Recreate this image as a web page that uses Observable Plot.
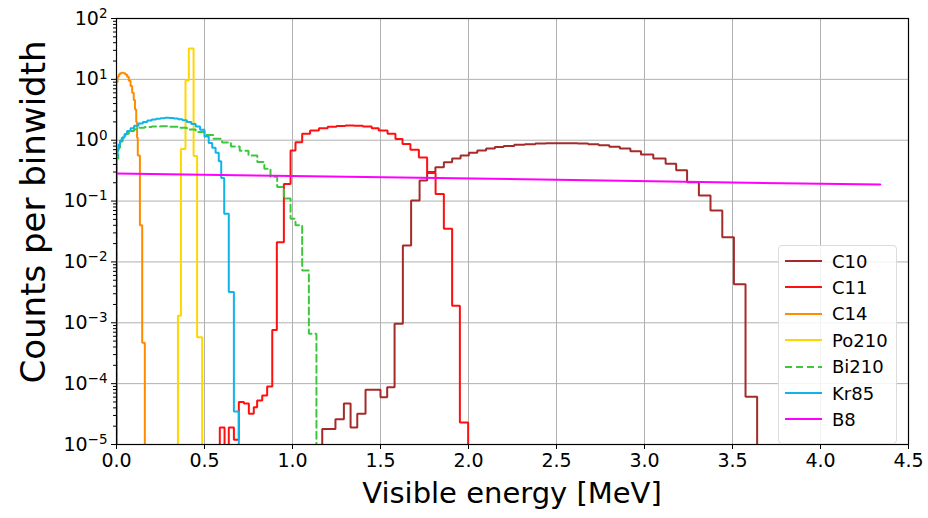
<!DOCTYPE html>
<html>
<head>
<meta charset="utf-8">
<script src="https://cdn.jsdelivr.net/npm/d3@7"></script>
<script src="https://cdn.jsdelivr.net/npm/@observablehq/plot@0.6"></script>
<style>
  html, body { margin: 0; padding: 0; background: #fff; }
  #wrap { position: relative; width: 928px; height: 518px; font-family: "DejaVu Sans", sans-serif; }
  #legend { position: absolute; left: 778px; top: 245px; width: 119px; height: 199px;
            border: 1px solid #dcdcdc; border-radius: 4px; background: rgba(255,255,255,0.85);
            box-sizing: border-box; }
  .row { position: absolute; left: 0; height: 26px; display: flex; align-items: center;
         font-size: 18px; color: #000; white-space: nowrap; }
  .row svg { margin-left: 6px; margin-right: 10px; }
</style>
</head>
<body>
<div id="wrap"></div>
<script>
// ---------- tick values ----------
const xTicks = [0, 0.5, 1.0, 1.5, 2.0, 2.5, 3.0, 3.5, 4.0, 4.5];
const yTicks = [1e-5, 1e-4, 1e-3, 1e-2, 1e-1, 1e0, 1e1, 1e2];

// ---------- series ----------
const seriesNames  = ["C10", "C11", "C14", "Po210", "Bi210", "Kr85", "B8"];
const seriesColors = ["#a52a2a", "#ff1010", "#ff8c00", "#ffd700", "#3cc83c", "#10b4e6", "#ff00ff"];
const seriesDashes = [null, null, null, null, "7,4", null, null];

// C10 histogram (bin edges in MeV, counts per binwidth)
const c10Edges = [1.169, 1.244, 1.292, 1.330, 1.368, 1.415, 1.500, 1.538, 1.580, 1.627, 1.674, 1.722,
  1.765, 1.812, 1.860, 1.907, 1.955, 2.002, 2.05, 2.10, 2.15, 2.20, 2.26, 2.32, 2.38, 2.44, 2.50,
  2.56, 2.62, 2.68, 2.74, 2.80, 2.86, 2.92, 2.98, 3.05, 3.12, 3.18, 3.242, 3.309, 3.375, 3.442,
  3.508, 3.574, 3.640];
const c10Counts = [1.8e-5, 2.6e-5, 4.7e-5, 1.9e-5, 3.2e-5, 7.9e-5, 6.0e-5, 8.7e-5, 9.6e-4, 0.0186,
  0.102, 0.218, 0.30, 0.36, 0.435, 0.50, 0.56, 0.62, 0.68, 0.73, 0.77, 0.80, 0.84, 0.86, 0.88, 0.89,
  0.89, 0.89, 0.88, 0.86, 0.83, 0.78, 0.73, 0.66, 0.58, 0.50, 0.41, 0.32, 0.204, 0.124, 0.070,
  0.0255, 4.3e-3, 6.1e-5];

// C11 histogram
const c11Edges = [0.587, 0.614, 0.638, 0.667, 0.695, 0.724, 0.752, 0.780, 0.799, 0.828, 0.856, 0.885,
  0.911, 0.951, 0.989, 1.017, 1.055, 1.10, 1.15, 1.20, 1.25, 1.30, 1.35, 1.40, 1.45, 1.49, 1.54,
  1.585, 1.625, 1.67, 1.718, 1.765, 1.813, 1.860, 1.907, 1.951, 1.998];
const c11Counts = [1.9e-5, 0, 1.9e-5, 1.2e-5, 5.0e-5, 4.7e-5, 3.2e-5, 4.1e-5, 5.3e-5, 6.4e-5, 9.0e-5,
  7.6e-4, 0.021, 0.19, 0.68, 0.93, 1.28, 1.45, 1.58, 1.67, 1.72, 1.75, 1.73, 1.68, 1.58, 1.45, 1.28,
  1.05, 0.87, 0.70, 0.52, 0.29, 0.131, 0.035, 1.9e-3, 2.3e-5];

// C14 histogram
const c14Edges = [0, 0.006, 0.013, 0.02, 0.03, 0.04, 0.05, 0.06, 0.07, 0.08, 0.089, 0.098, 0.105,
  0.112, 0.117, 0.121, 0.133, 0.146, 0.161];
const c14Counts = [9.0, 11.0, 12.0, 12.6, 12.8, 12.6, 12.0, 11.0, 9.5, 7.8, 6.0, 4.6, 3.2, 2.0, 1.1,
  0.56, 0.040, 4.7e-4];

// Po210 histogram
const po210Edges = [0.349, 0.366, 0.392, 0.411, 0.438, 0.458, 0.487];
const po210Counts = [1.3e-3, 0.72, 9.6, 32, 0.55, 5.8e-4];

// Bi210 histogram
const bi210Edges = [0, 0.01, 0.02, 0.035, 0.05, 0.07, 0.10, 0.13, 0.16, 0.20, 0.25, 0.30, 0.35, 0.40,
  0.45, 0.50, 0.55, 0.60, 0.65, 0.70, 0.75, 0.80, 0.84, 0.875, 0.913, 0.951, 0.989, 1.017, 1.055,
  1.093, 1.136];
const bi210Counts = [0.5, 0.75, 0.95, 1.12, 1.28, 1.42, 1.52, 1.60, 1.65, 1.68, 1.69, 1.66, 1.60, 1.50,
  1.37, 1.22, 1.06, 0.92, 0.79, 0.67, 0.56, 0.44, 0.34, 0.25, 0.17, 0.11, 0.051, 0.040, 7.2e-3, 6.6e-4];

// Kr85 histogram
const kr85Edges = [0, 0.006, 0.012, 0.02, 0.03, 0.045, 0.06, 0.08, 0.10, 0.125, 0.15, 0.175, 0.20,
  0.225, 0.25, 0.275, 0.30, 0.325, 0.35, 0.375, 0.40, 0.425, 0.45, 0.475, 0.50, 0.524, 0.544, 0.563,
  0.581, 0.595, 0.612, 0.638, 0.667, 0.695];
const kr85Counts = [0.53, 0.70, 0.85, 0.99, 1.10, 1.25, 1.42, 1.58, 1.73, 1.88, 2.00, 2.10, 2.18, 2.25,
  2.30, 2.33, 2.32, 2.28, 2.22, 2.12, 2.00, 1.85, 1.68, 1.48, 1.15, 0.90, 0.75, 0.62, 0.45, 0.24,
  0.062, 3.2e-3, 3.5e-5];

// B8 (smooth line)
const b8X = [0, 1.0, 2.5, 3.5, 4.34];
const b8Y = [0.284, 0.258, 0.224, 0.202, 0.187];

// ---------- build ----------
const FLOOR = 1e-9; // empty bins (below the visible range)
function stepOutline(edges, counts) {
  const pts = [{x: edges[0], y: FLOOR}];
  counts.forEach((c, i) => {
    const v = c > 0 ? c : FLOOR;
    pts.push({x: edges[i], y: v});
    pts.push({x: edges[i + 1], y: v});
  });
  pts.push({x: edges[edges.length - 1], y: FLOOR});
  return pts;
}

const hists = [
  [c10Edges, c10Counts], [c11Edges, c11Counts], [c14Edges, c14Counts],
  [po210Edges, po210Counts], [bi210Edges, bi210Counts], [kr85Edges, kr85Counts]
];

const lineMarks = hists.map(([e, c], i) =>
  Plot.line(stepOutline(e, c), {
    x: "x", y: "y", stroke: seriesColors[i], strokeWidth: 2,
    strokeDasharray: seriesDashes[i] || undefined, clip: true, strokeLinejoin: "miter"
  })
);
const b8Data = b8X.map((x, i) => ({x, y: b8Y[i]}));
lineMarks.push(Plot.line(b8Data, {x: "x", y: "y", stroke: seriesColors[6], strokeWidth: 2, clip: true}));

const expFmt = d => "10^" + Math.round(Math.log10(d));

const minorTicks = [];
for (let k = -5; k < 2; k++) for (let m = 2; m <= 9; m++) minorTicks.push(m * Math.pow(10, k));

const gridStyle = {stroke: "#b0b0b0", strokeOpacity: 1, strokeWidth: 1};

const chart = Plot.plot({
  width: 928, height: 518,
  marginLeft: 116, marginRight: 20, marginTop: 18, marginBottom: 74,
  style: {fontFamily: "DejaVu Sans, sans-serif", fontSize: "19px", color: "#000", background: "transparent", overflow: "visible"},
  x: {domain: [0, 4.5]},
  y: {type: "log", domain: [1e-5, 1e2]},
  marks: [
    Plot.gridX(xTicks, gridStyle),
    Plot.gridY(yTicks, gridStyle),
    ...lineMarks,
    Plot.frame({stroke: "#000", strokeWidth: 1.2}),
    Plot.axisX(xTicks, {tickSize: 5, tickPadding: 4, tickFormat: d => d.toFixed(1), label: null}),
    Plot.axisY(yTicks, {tickSize: 5, tickPadding: 4, tickFormat: expFmt, label: null}),
    Plot.axisY(minorTicks, {tickSize: 3, tickFormat: () => "", label: null})
  ]
});

const wrap = document.getElementById("wrap");
wrap.appendChild(chart);

const svg = d3.select(chart);

// power-of-ten tick labels with real superscripts
svg.selectAll("text").each(function () {
  const m = (this.textContent || "").match(/^10\^(-?\d+)$/);
  if (!m) return;
  const exp = m[1].replace("-", "\u2212");
  const t = d3.select(this);
  t.text(null);
  t.append("tspan").text("10");
  t.append("tspan").attr("font-size", "13.5px").attr("dy", "-0.5em").text(exp);
});

// axis titles
svg.append("text")
  .attr("x", 512).attr("y", 503)
  .attr("text-anchor", "middle")
  .attr("font-size", 29)
  .attr("fill", "#000")
  .text("Visible energy [MeV]");
svg.append("text")
  .attr("transform", "translate(45,212) rotate(-90)")
  .attr("text-anchor", "middle")
  .attr("font-size", 34)
  .attr("fill", "#000")
  .text("Counts per binwidth");

// legend
const legend = document.createElement("div");
legend.id = "legend";
seriesNames.forEach((name, i) => {
  const row = document.createElement("div");
  row.className = "row";
  row.style.top = (2 + 26.4 * i) + "px";
  const dash = seriesDashes[i] ? ` stroke-dasharray="${seriesDashes[i]}"` : "";
  row.innerHTML = `<svg width="37" height="6"><line x1="0" y1="3" x2="37" y2="3" stroke="${seriesColors[i]}" stroke-width="2.2"${dash}/></svg><span>${name}</span>`;
  legend.appendChild(row);
});
wrap.appendChild(legend);
</script>
</body>
</html>
